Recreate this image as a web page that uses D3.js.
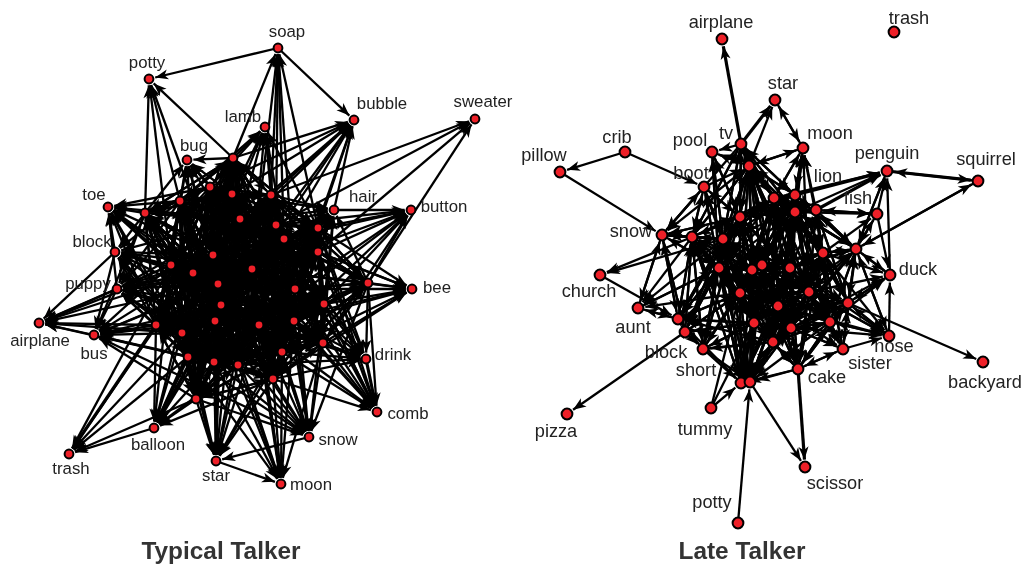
<!DOCTYPE html>
<html>
<head>
<meta charset="utf-8">
<script src="https://cdn.jsdelivr.net/npm/d3@7"></script>
<style>
html, body { margin: 0; padding: 0; background: #fff; }
svg { display: block; filter: blur(0.4px); }
text { font-family: "Liberation Sans", Arial, sans-serif; fill: #222; }
</style>
</head>
<body>
<div class="canvas"></div>
<script>
// typical talker network, node positions (layout units)
const typicalNodesX = [278,149,354,475,265,187,108,115,117,334,411,412,39,94,366,377,309,281,216,69,154,
    233,210,232,271,180,145,240,276,318,284,318,213,252,171,193,368,218,295,221,324,156,215,259,294,182,323,188,214,238,282,273,196]
const typicalNodesY = [48,79,120,119,127,160,207,252,289,210,210,289,323,335,359,412,437,484,461,454,428,
    158,187,194,195,201,213,219,225,228,239,252,255,269,265,273,283,284,289,305,304,325,321,325,321,333,343,357,362,365,352,379,399]
// incoming ties of each node, same order as the node arrays
const typicalTies = [
    [21,24,28,30,29,33,38],
    [0,26,25,34,21,32],
    [0,21,22,23,24,27,28,30,29,9,33,32,38],
    [24,28,31,36],
    [21,22,23,24,25,27,28,29,30,32,33],
    [21,22,23,25,26,27,32,33,34,35,37],
    [22,25,26,32,34,35,37,41,45,7,8,27,39,47],
    [25,26,32,34,35,37,39,41,42,45,47,27,33,48],
    [22,25,26,32,34,35,37,39,41,42,45,47,48,27,33,43],
    [23,24,27,28,29,30,31,33,36,38,40,43,44,46,50,51,39],
    [9,28,29,30,31,33,36,38,40,44,46,43],
    [29,30,31,33,36,38,40,43,44,46,50,51],
    [7,8,34,35,41,45,47,13,32,37],
    [7,8,26,34,35,37,39,41,42,45,47,48,52,33],
    [29,31,33,36,38,39,40,43,44,46,49,50,51,30,28],
    [14,24,29,30,31,33,36,38,40,43,44,46,50,51],
    [13,24,30,33,36,38,39,40,42,43,44,46,47,48,49,50,51,52],
    [18,27,33,39,42,43,44,46,47,48,49,50,51],
    [16,27,33,34,37,39,42,43,44,45,47,48,49,50,51,52],
    [20,34,35,41,45,52,47],
    [34,35,37,39,41,42,45,47,48,49,51,52,33],
    [22,23,24,25,26,27,28,29,30,32,33,34,35,37,38,39,41,42,43,44,45,47,48,49,50,52],
    [21,23,24,25,26,27,28,30,32,33,34,35,37,38,39,41,42,43,44,45,47,48,49,50,52],
    [21,22,24,25,26,27,28,29,30,31,32,33,34,35,37,38,39,40,41,42,43,44,45,47,48,49,50,51,52],
    [21,22,23,25,27,28,29,30,31,32,33,35,36,37,38,39,40,42,43,44,46,48,49,50,51],
    [21,22,23,24,26,27,28,30,32,33,34,35,37,38,39,41,42,43,45,47,48,49,52],
    [21,22,23,25,27,28,32,33,34,35,37,39,41,42,43,45,47,48,49,52],
    [21,22,23,24,25,26,28,29,30,31,32,33,34,35,36,37,38,39,40,41,42,43,44,45,46,47,48,49,50,51,52],
    [21,22,23,24,25,27,29,30,31,32,33,35,36,37,38,39,40,42,43,44,45,46,48,49,50,51],
    [21,23,24,27,28,30,31,32,33,35,36,37,38,39,40,42,43,44,46,48,49,50,51],
    [21,22,23,24,25,27,28,29,31,32,33,34,35,36,37,38,39,40,41,42,43,44,45,46,47,48,49,50,51,52],
    [23,24,27,28,29,30,32,33,35,36,37,38,39,40,42,43,44,46,48,49,50,51],
    [21,22,23,24,25,26,27,28,29,30,31,33,34,35,37,38,39,40,41,42,43,44,45,46,47,48,49,50,51,52],
    [21,22,23,24,25,26,27,28,29,30,31,32,34,35,36,37,38,39,40,41,42,43,44,45,46,47,48,49,50,51,52],
    [21,22,23,25,26,27,30,32,33,35,37,38,39,41,42,43,45,47,48,49,50,52],
    [21,22,23,24,25,26,27,28,29,30,31,32,33,34,37,38,39,40,41,42,43,44,45,47,48,49,50,51,52],
    [24,27,28,29,30,31,33,38,40,43,44,46,50,51],
    [21,22,23,24,25,26,27,28,29,30,31,32,33,34,35,38,39,40,41,42,43,44,45,46,47,48,49,50,51,52],
    [21,22,23,24,25,27,28,29,30,31,32,33,34,35,36,37,39,40,42,43,44,46,47,48,49,50,51,52],
    [21,22,23,24,25,26,27,28,29,30,31,32,33,34,35,37,38,40,41,42,43,44,45,46,47,48,49,50,51,52],
    [23,24,27,28,29,30,31,32,33,35,36,37,38,39,42,43,44,46,47,48,49,50,51],
    [21,22,23,25,26,27,30,32,33,34,35,37,39,42,43,44,45,47,48,49,50,52],
    [21,22,23,24,25,26,27,28,29,30,31,32,33,34,35,37,38,39,40,41,43,44,45,46,47,48,49,50,51,52],
    [21,22,23,24,25,26,27,28,29,30,31,32,33,34,35,36,37,38,39,40,41,42,44,45,46,47,48,49,50,51,52],
    [21,22,23,24,27,28,29,30,31,32,33,35,36,37,38,39,40,41,42,43,45,46,47,48,49,50,51],
    [21,22,23,25,26,27,28,30,32,33,34,35,37,39,41,42,43,44,47,48,49,50,52],
    [24,27,28,29,30,31,32,33,36,37,38,39,40,42,43,44,47,48,49,50,51],
    [21,22,23,25,26,27,30,32,33,34,35,37,38,39,40,41,42,43,44,45,46,48,49,50,51,52],
    [21,22,23,25,26,27,28,29,30,31,32,33,34,35,37,38,39,40,41,42,43,44,45,46,47,49,50,51,52],
    [21,22,23,24,25,26,27,28,29,30,31,32,33,34,35,37,38,39,40,41,42,43,44,45,46,47,48,50,51,52],
    [21,22,23,24,27,28,29,30,31,32,33,34,35,36,37,38,39,40,41,42,43,44,45,46,47,48,49,51,52],
    [23,24,27,28,29,30,31,32,33,35,36,37,38,39,40,42,43,44,46,47,48,49,50,52],
    [21,22,23,25,26,27,30,32,33,34,35,37,38,39,41,42,43,45,47,48,49,50,51]
]
const typicalStrong = [[47,20],[50,16],[14,15],[41,19]]
const typicalLabels = ["soap","potty","bubble","sweater","lamb","bug","toe","block","puppy","hair","button","bee","airplane","bus","drink","comb","snow","moon","star","trash","balloon"]
const typicalLabelX = [287,147,382,483,243,194,94,92,88,363,444,437,40,94,393,408,338,311,216,71,158]
const typicalLabelY = [37,68,109,107,122,151,200,247,289,202,212,293,346,359,360,419,445,490,481,474,450]

// late talker network
const lateNodesX = [722,894,775,741,803,712,625,560,887,978,704,816,877,662,890,600,638,685,703,889,843,798,983,567,711,805,738,
    749,774,795,795,740,692,723,856,823,719,752,762,790,740,809,848,778,678,754,791,830,773,741,750]
const lateNodesY = [39,32,100,144,148,152,152,172,171,181,187,210,214,235,275,275,308,332,349,336,349,369,362,414,408,467,523,
    166,198,195,212,217,237,239,249,253,268,270,265,268,293,292,303,306,319,323,328,322,342,383,382]
const lateTies = [
    [3],
    [],
    [3,27,4],
    [27,28,29,30,31,33,32],
    [2,11,28,29,30,35,39,41,27],
    [27,31,33,36,3],
    [],
    [6],
    [9,11,28,29,30,12,14,34],
    [8,34],
    [6,13,31,32,33,36,40],
    [12,28,29,30,31,34,35,39,41,42,46,47],
    [11,30,34,35],
    [7,10,3,16,17,27,31,32,33,36,44],
    [19,34,35,41,42,46,47,12],
    [32,33],
    [13,32,36,40,44,33],
    [13,32,33,36,40,44,45,31],
    [17,32,33,36,40,44,45,48,31],
    [20,34,35,39,41,42,43,46,47],
    [21,39,41,42,43,46,47,35],
    [20,37,38,39,41,42,43,45,46,47,48,35],
    [42],
    [17],
    [],
    [21,50],
    [],
    [3,4,5,10,28,29,30,31,32,33,36,37,38,39,40,41,43,45,46,35],
    [3,4,27,29,30,31,32,33,34,35,36,37,38,39,40,41,43,45,46,47,48],
    [3,4,27,28,30,31,33,34,35,36,37,38,39,40,41,42,43,45,46,47,48],
    [3,4,11,27,28,29,31,33,34,35,36,37,38,39,40,41,42,43,45,46,47,48],
    [3,5,10,13,27,28,29,30,32,33,36,37,38,39,40,41,43,44,45,46,48,17,18],
    [3,10,13,17,18,27,31,33,36,37,38,40,43,44,45,48,49,50],
    [3,5,10,13,17,18,27,28,31,32,36,37,38,39,40,43,44,45,46,48,49,50],
    [8,9,11,12,28,29,30,35,39,41,42,43,46,47,48,14,19,20],
    [11,27,28,29,30,34,37,38,39,41,42,43,45,46,47,48,20,21],
    [5,10,13,16,17,18,31,32,33,37,38,39,40,43,44,45,46,48,49,50],
    [18,21,27,28,29,30,31,32,33,36,38,39,40,41,43,45,46,47,48,49,50],
    [21,27,28,29,30,31,33,35,36,37,39,40,41,43,45,46,47,48,49,50],
    [21,27,28,29,30,31,33,34,35,36,37,38,40,41,43,45,46,47,48,49,50],
    [17,18,24,27,28,29,30,31,32,33,36,37,38,39,41,43,44,45,46,48,49,50],
    [11,19,20,21,27,28,29,30,34,35,37,38,39,42,43,45,46,47,48],
    [11,14,19,20,21,29,30,34,35,39,41,43,46,47,48],
    [21,27,28,29,30,31,33,35,36,37,38,39,40,41,42,45,46,47,48,49,50],
    [13,15,16,17,18,31,32,33,36,40,45,48,49],
    [17,18,21,24,27,28,31,32,33,36,37,38,39,40,43,44,46,48,49,50],
    [20,21,27,28,29,30,34,35,37,38,39,40,41,42,43,45,47,48,49,50],
    [11,19,20,21,28,29,30,34,35,37,38,39,41,42,43,46,48],
    [18,21,28,29,30,31,32,33,36,37,38,39,40,41,42,43,45,46,47,49,50],
    [18,21,24,33,36,37,38,39,40,43,45,46,48,32],
    [18,21,26,33,36,37,38,39,40,41,43,45,46,47,48,32]
]
const lateStrong = [[3,0],[11,8],[29,8],[21,25],[3,2],[8,9]]
const lateLabels = ["airplane","trash","star","tv","moon","pool","crib","pillow","penguin","squirrel","boot","lion","fish","snow","duck","church","aunt","block","short","nose","sister","cake","backyard","pizza","tummy","scissor","potty"]
const lateLabelX = [721,909,783,726,830,690,617,544,887,986,691,828,858,631,918,589,633,666,696,894,870,827,985,556,705,835,712]
const lateLabelY = [28,24,89,139,139,146,143,161,159,165,179,182,204,237,275,297,333,358,376,352,369,383,388,437,435,489,508]

const titles = ["Typical Talker","Late Talker"]
const titleX = [221,742]
const titleY = [559,559]

const width = 1022
const height = 564

const svg = d3.select(".canvas")
    .append("svg")
    .attr("width", width)
    .attr("height", height)

const scaleX = d3.scaleLinear().domain([0, 1022]).range([0, width])
const scaleY = d3.scaleLinear().domain([0, 564]).range([0, height])

svg.append("defs").append("marker")
    .attr("id", "arrow")
    .attr("markerUnits", "userSpaceOnUse")
    .attr("viewBox", "-14 -6 15 12")
    .attr("refX", 0)
    .attr("refY", 0)
    .attr("markerWidth", 15)
    .attr("markerHeight", 12)
    .attr("orient", "auto")
    .append("path")
    .attr("d", "M0,0L-13,-5L-9.5,0L-13,5Z")
    .attr("fill", "#000")

function drawNetwork(nodesX, nodesY, ties, strong, labels, labelX, labelY, opts) {
    const g = svg.append("g")
    const nodes = nodesX.map((x, i) => ({ x: scaleX(x), y: scaleY(nodesY[i]) }))
    const links = []
    ties.forEach((sources, target) => {
        sources.forEach(source => links.push({ source, target }))
    })
    strong.forEach(s => {
        const link = links.find(l => l.source == s[0] && l.target == s[1])
        if (link) link.strong = true
    })

    g.selectAll("line")
        .data(links)
        .enter()
        .append("line")
        .attr("x1", d => nodes[d.source].x)
        .attr("y1", d => nodes[d.source].y)
        .attr("x2", d => {
            const a = nodes[d.source], b = nodes[d.target]
            const len = Math.hypot(b.x - a.x, b.y - a.y)
            return b.x - (b.x - a.x) / len * (opts.r + 2)
        })
        .attr("y2", d => {
            const a = nodes[d.source], b = nodes[d.target]
            const len = Math.hypot(b.x - a.x, b.y - a.y)
            return b.y - (b.y - a.y) / len * (opts.r + 2)
        })
        .attr("stroke", "#000")
        .attr("stroke-width", d => d.strong ? 3.2 : opts.edge)
        .attr("marker-end", "url(#arrow)")

    g.selectAll("circle")
        .data(nodes)
        .enter()
        .append("circle")
        .attr("cx", d => d.x)
        .attr("cy", d => d.y)
        .attr("r", opts.r)
        .attr("fill", "#ee2028")
        .attr("stroke", "#000")
        .attr("stroke-width", 2)

    g.selectAll("text")
        .data(labels)
        .enter()
        .append("text")
        .attr("x", (d, i) => scaleX(labelX[i]))
        .attr("y", (d, i) => scaleY(labelY[i]))
        .attr("text-anchor", "middle")
        .attr("font-size", opts.font)
        .text(d => d)
}

drawNetwork(typicalNodesX, typicalNodesY, typicalTies, typicalStrong, typicalLabels, typicalLabelX, typicalLabelY, { r: 4.4, edge: 2.3, font: 16.8 })
drawNetwork(lateNodesX, lateNodesY, lateTies, lateStrong, lateLabels, lateLabelX, lateLabelY, { r: 5.4, edge: 2.3, font: 18.2 })

svg.selectAll(".title")
    .data(titles)
    .enter()
    .append("text")
    .attr("class", "title")
    .attr("x", (d, i) => scaleX(titleX[i]))
    .attr("y", (d, i) => scaleY(titleY[i]))
    .attr("text-anchor", "middle")
    .attr("font-size", 24.4)
    .attr("font-weight", "bold")
    .style("fill", "#333")
    .text(d => d)
</script>
</body>
</html>
